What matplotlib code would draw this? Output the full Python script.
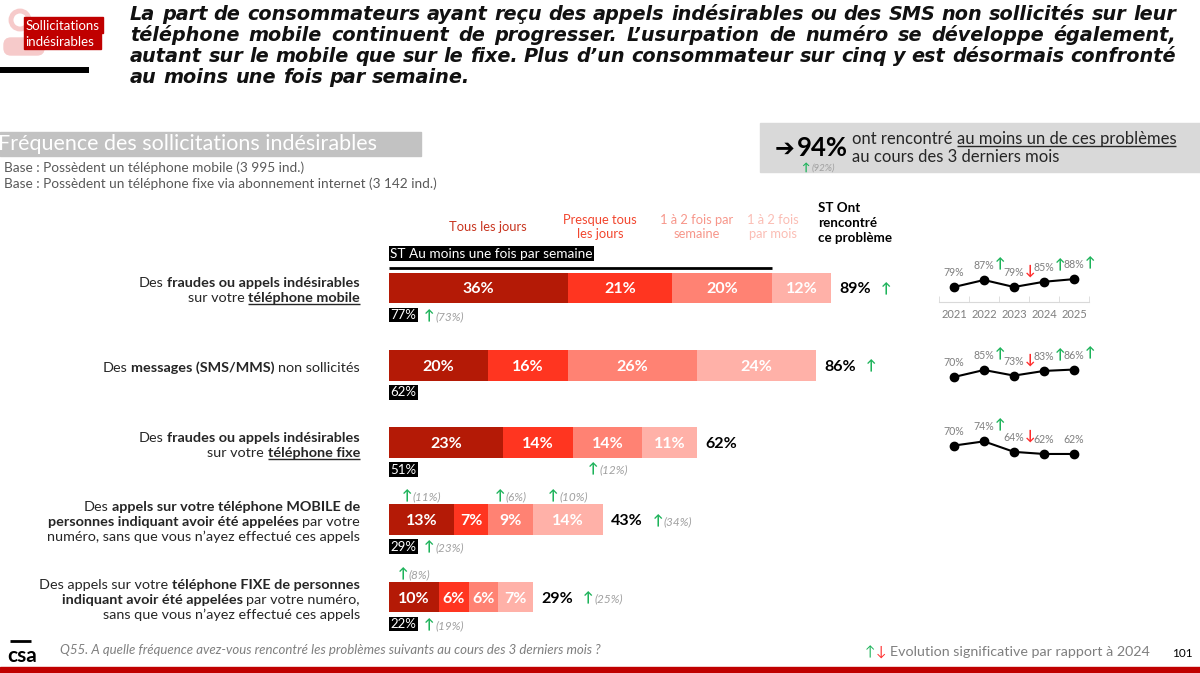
import re
import matplotlib
matplotlib.use("Agg")
import matplotlib.pyplot as plt
from matplotlib.patches import Rectangle, Circle, FancyBboxPatch

# ---------------- data ----------------
categories = [
    "Des **fraudes ou appels indésirables**\nsur votre **__téléphone mobile__**",
    "Des **messages (SMS/MMS)** non sollicités",
    "Des **fraudes ou appels indésirables**\nsur votre **__téléphone fixe__**",
    "Des **appels sur votre téléphone MOBILE de**\n**personnes indiquant avoir été appelées** par votre\nnuméro, sans que vous n’ayez effectué ces appels",
    "Des appels sur votre **téléphone FIXE de personnes**\n**indiquant avoir été appelées** par votre numéro,\nsans que vous n’ayez effectué ces appels",
]
freq_labels = ["Tous les jours", "Presque tous\nles jours", "1 à 2 fois par\nsemaine", "1 à 2 fois\npar mois"]
tous_les_jours = [36, 20, 23, 13, 10]
presque_tous = [21, 16, 14, 7, 6]
une_deux_semaine = [20, 26, 14, 9, 6]
une_deux_mois = [12, 24, 11, 14, 7]
st_total = [89, 86, 62, 43, 29]
st_total_up = [True, True, False, True, True]
st_total_prev = [None, None, None, 34, 25]
st_semaine = [77, 62, 51, 29, 22]
st_semaine_prev = [73, None, None, 23, 19]
# significant segment changes: (row, segment, previous value)
seg_changes = [(2, 2, 12), (3, 0, 11), (3, 2, 6), (3, 3, 10), (4, 0, 8)]
years = ["2021", "2022", "2023", "2024", "2025"]
trend_mobile = [79, 87, 79, 85, 88]
trend_sms = [70, 85, 73, 83, 86]
trend_fixe = [70, 74, 64, 62, 62]
trend_mobile_sig = [0, 1, -1, 1, 1]
trend_sms_sig = [0, 1, -1, 1, 1]
trend_fixe_sig = [0, 1, -1, 0, 0]
total_any = 94
total_any_prev = 92

title_lines = [
    "La part de consommateurs ayant reçu des appels indésirables ou des SMS non sollicités sur leur",
    "téléphone mobile continuent de progresser. L’usurpation de numéro se développe également,",
    "autant sur le mobile que sur le fixe. Plus d’un consommateur sur cinq y est désormais confronté",
    "au moins une fois par semaine.",
]

# ---------------- style ----------------
plt.rcParams['font.family'] = ['Lato', 'DejaVu Sans']
DARK = '#262626'
GRAY = '#7F7F7F'
LGRAY = '#A0A0A0'
GREEN = '#1DB35A'
RED = '#FF2B2B'
PINK = '#F6CACA'
bar_colors = ['#B41A06', '#FF3520', '#FF8273', '#FFB1A8']
head_colors = ['#C8341E', '#F2462E', '#F7968A', '#FBBDB4']

W, H = 1200, 673
fig = plt.figure(figsize=(W / 100, H / 100), dpi=100)
ov = fig.add_axes([0, 0, 1, 1])
ov.set_xlim(0, W)
ov.set_ylim(H, 0)
ov.axis('off')
ov.set_zorder(10)
R = fig.canvas.get_renderer()


def measure(s, **kw):
    t = ov.text(0, 0, s, **kw)
    w = t.get_window_extent(R).width
    t.remove()
    return w


_sw = {}


def space_w(kw):
    key = tuple(sorted((k, str(v)) for k, v in kw.items()))
    if key not in _sw:
        _sw[key] = measure('n n', **kw) - measure('nn', **kw)
    return _sw[key]


def runs(x, y, items, ha='left', z=5):
    parts = []
    total = 0
    for it in items:
        if isinstance(it, (int, float)):
            parts.append(('', {}, False, it, 0, 0))
            total += it
            continue
        text, kw = it[0], it[1]
        ul = it[2] if len(it) > 2 else False
        sw = space_w(kw)
        lead = len(text) - len(text.lstrip(' '))
        trail = len(text) - len(text.rstrip(' '))
        core = text.strip(' ')
        w = measure(core, **kw) if core else 0
        parts.append((core, kw, ul, lead * sw, w, trail * sw))
        total += lead * sw + w + trail * sw
    x0 = x - total if ha == 'right' else (x - total / 2 if ha == 'center' else x)
    cur = x0
    for core, kw, ul, l, w, t in parts:
        cur += l
        if core:
            ov.text(cur, y, core, ha='left', va='baseline', zorder=z, **kw)
            if ul:
                fs = kw.get('fontsize', 10) * 100 / 72
                ov.plot([cur, cur + w], [y + fs * 0.14] * 2, color=kw.get('color', 'k'),
                        lw=1.0, solid_capstyle='butt', zorder=z)
        cur += w + t
    return x0, x0 + total


def K(size, color=DARK, weight='normal', style='normal', family=None):
    d = dict(fontsize=size, color=color, fontweight=weight, fontstyle=style)
    if family:
        d['family'] = family
    return d


# ---------------- header ----------------
ov.add_patch(Circle((20, 20), 9, fill=False, lw=3.5, edgecolor=PINK, zorder=1))
ov.add_patch(FancyBboxPatch((4, 38), 40, 17, boxstyle='round,pad=0,rounding_size=7',
                            color=PINK, zorder=1))
ov.add_patch(Rectangle((24, 17), 79, 16, color='#C00000', zorder=2))
ov.add_patch(Rectangle((24, 33), 77, 15.5, color='#C00000', zorder=2))
ov.text(25.5, 30, "Sollicitations", color='white', fontsize=9.5, va='baseline', zorder=3)
ov.text(25.5, 46, "indésirables", color='white', fontsize=9.5, va='baseline', zorder=3)
ov.plot([0, 89], [70, 70], color='black', lw=4.3, solid_capstyle='butt')

tkw = K(10, '#111111', 'bold', 'italic', ['DejaVu Sans'])
w10 = measure(title_lines[0], **tkw)
tkw['fontsize'] = 10 * 1046 / w10
title_base = [20, 41, 62, 83]
for k, line in enumerate(title_lines):
    words = line.split(' ')
    ws = [measure(wd, **tkw) for wd in words]
    if k < 3:
        gap = (1176 - 130 - sum(ws)) / (len(words) - 1)
    else:
        gap = space_w(tkw)
    cx = 130
    for wd, wv in zip(words, ws):
        ov.text(cx, title_base[k], wd, va='baseline', **tkw)
        cx += wv + gap

ov.add_patch(Rectangle((0, 132), 421, 24, color='#C2C2C2', zorder=1))
ov.text(-2, 150.5, "Fréquence des sollicitations indésirables", color='white',
        fontsize=15.5, va='baseline', zorder=2)
ov.text(4, 172, "Base : Possèdent un téléphone mobile (3 995 ind.)", fontsize=9.8,
        color='#595959', va='baseline')
ov.text(4, 188, "Base : Possèdent un téléphone fixe via abonnement internet (3 142 ind.)",
        fontsize=9.8, color='#595959', va='baseline')

ov.add_patch(Rectangle((760, 123), 440, 49, color='#D9D9D9', zorder=1))
runs(775, 156, [("➔", K(17, 'black', 'bold', family=['DejaVu Sans'])), 2,
                (f"{total_any}%", K(18.5, 'black', 'bold'))])
runs(852, 144, [("ont rencontré ", K(12)), ("au moins un de ces problèmes", K(12), True)])
runs(852, 162, [("au cours des 3 derniers mois", K(12))])
runs(801, 171, [("↑", K(8, GREEN, 'bold')), 2, (f"({total_any_prev}%)", K(7, LGRAY, style='italic'))])

# column headers
head_x = [488, 600, 697, 773]
for lab, hx, hc in zip(freq_labels, head_x, head_colors):
    ov.text(hx, 227, lab, ha='center', va='center', fontsize=9.3, color=hc, linespacing=1.3)
ov.text(818, 223, "ST Ont\nrencontré\nce problème", ha='left', va='center', fontsize=9.6,
        fontweight='bold', color='black', linespacing=1.25)

# ---------------- bars ----------------
bx = fig.add_axes([389 / W, (H - 640) / H, 497 / W, 390 / H])
bx.set_xlim(0, 100)
bx.set_ylim(4.5566, -0.4919)
bx.axis('off')


def px(x, y):
    X, Y = bx.transData.transform((x, y))
    return X, H - Y


rows = list(range(len(categories)))
series = [tous_les_jours, presque_tous, une_deux_semaine, une_deux_mois]
lefts = [0] * len(rows)
seg_bounds = []
for vals, col in zip(series, bar_colors):
    bx.barh(rows, vals, left=lefts, height=0.40, color=col, lw=0)
    seg_bounds.append(list(zip(lefts, vals)))
    for i, (l, v) in enumerate(zip(lefts, vals)):
        X, Y = px(l + v / 2, i)
        ov.text(X, Y + 5.5, f"{v}%", ha='center', va='baseline', color='white',
                fontweight='bold', fontsize=11.5, zorder=6)
    lefts = [l + v for l, v in zip(lefts, vals)]

# ST au moins une fois par semaine
bx.plot([0, st_semaine[0]], [-0.26, -0.26], color='black', lw=2, solid_capstyle='butt')
X0, Y0 = px(0, -0.44)
ov.text(X0 + 1.5, Y0 + 3.5, "ST Au moins une fois par semaine", color='white', fontsize=9.8,
        va='baseline', bbox=dict(facecolor='black', edgecolor='none', pad=1.0))

for i in rows:
    Xs, Yc = px(0, i)
    # category label
    lines = categories[i].split('\n')
    n = len(lines)
    for k, line in enumerate(lines):
        toks = re.split(r'(\*\*|__)', line)
        bold = ul = False
        items = []
        for tk in toks:
            if tk == '**':
                bold = not bold
            elif tk == '__':
                ul = not ul
            elif tk:
                items.append((tk, K(10.4, DARK, 'bold' if bold else 'normal'), ul))
        yl = Yc + 2 + (k - (n - 1) / 2) * 15 + 4.5
        runs(360, yl, items, ha='right')
    # total
    Xe, _ = px(st_total[i], i)
    items = [(f"{st_total[i]}%", K(11.5, 'black', 'bold'))]
    if st_total_up[i]:
        items += [10, ("↑", K(10, GREEN, 'bold'))]
        if st_total_prev[i] is not None:
            items += [1, (f"({st_total_prev[i]}%)", K(8.5, LGRAY, style='italic'))]
    runs(Xe + 8, Yc + 5.5, items)
    # ST semaine box
    ov.text(Xs + 1.5, Yc + 31, f"{st_semaine[i]}%", color='white', fontsize=9.5, va='baseline',
            bbox=dict(facecolor='black', edgecolor='none', pad=1.0))
    if st_semaine_prev[i] is not None:
        runs(Xs + 35, Yc + 32, [("↑", K(10, GREEN, 'bold')), 1,
                                (f"({st_semaine_prev[i]}%)", K(8.5, LGRAY, style='italic'))])

for r, s, prev in seg_changes:
    l, v = seg_bounds[s][r]
    Xc, Yc = px(l + v / 2, r)
    yy = Yc + 31 if r == 2 else Yc - 19
    runs(Xc, yy, [("↑", K(10, GREEN, 'bold')), 1, (f"({prev}%)", K(8.5, LGRAY, style='italic'))],
         ha='center')

# ---------------- sparklines ----------------
trends = [trend_mobile, trend_sms, trend_fixe]
sigs = [trend_mobile_sig, trend_sms_sig, trend_fixe_sig]
spark_pix = [(262, 302), (340, 390), (415, 465)]
spark_lim = [(61.86, 107.57), (42.2, 149.2), (51.5, 99.1)]
for j, (vals, sg) in enumerate(zip(trends, sigs)):
    top, bot = spark_pix[j]
    sx = fig.add_axes([939 / W, (H - bot) / H, 150 / W, (bot - top) / H])
    sx.set_xlim(-0.5, 4.5)
    sx.set_ylim(*spark_lim[j])
    sx.patch.set_alpha(0)
    sx.plot(range(len(vals)), vals, color='black', lw=1.5, marker='o', ms=6)
    for side in ['top', 'right', 'left']:
        sx.spines[side].set_visible(False)
    sx.set_yticks([])
    if j == 0:
        sx.spines['bottom'].set_color('#D9D9D9')
        sx.set_xticks(range(len(years)))
        sx.set_xticklabels(years, fontsize=8, color=GRAY)
        sx.tick_params(axis='x', which='major', length=0, pad=5)
        sx.set_xticks([k - 0.5 for k in range(len(years) + 1)], minor=True)
        sx.tick_params(axis='x', which='minor', direction='in', length=4, color='#D9D9D9')
    else:
        sx.spines['bottom'].set_visible(False)
        sx.set_xticks([])
    for k, v in enumerate(vals):
        Xp, Yp = sx.transData.transform((k, v))
        Yp = H - Yp
        lab = f"{v}%"
        lkw = K(7.6, GRAY)
        ov.text(Xp, Yp - 11, lab, ha='center', va='baseline', **lkw)
        if sg[k]:
            wl = measure(lab, **lkw)
            ov.text(Xp + wl / 2 + 0.5, Yp - 12, "↑" if sg[k] > 0 else "↓",
                    color=GREEN if sg[k] > 0 else RED, fontsize=10, fontweight='bold',
                    va='baseline', ha='left')

# ---------------- footer ----------------
ov.plot([10, 31], [641, 641], color='black', lw=2, solid_capstyle='butt')
ov.text(7, 662, "csa", fontsize=15, fontweight='bold', color='black', va='baseline')
ov.text(60, 654, "Q55. A quelle fréquence avez-vous rencontré les problèmes suivants au cours des 3 derniers mois ?",
        fontsize=9.5, fontstyle='italic', color=GRAY, va='baseline')
runs(865, 656, [("↑", K(10, GREEN)), ("↓", K(10, RED)), 4,
                ("Evolution significative par rapport à 2024", K(10.3, GRAY))])
ov.text(1172, 657, "101", fontsize=8.5, color='black', va='baseline')
ov.add_patch(Rectangle((0, 667), W, 6, color='#C00000', zorder=1))

fig.savefig("out.png", dpi=100)
